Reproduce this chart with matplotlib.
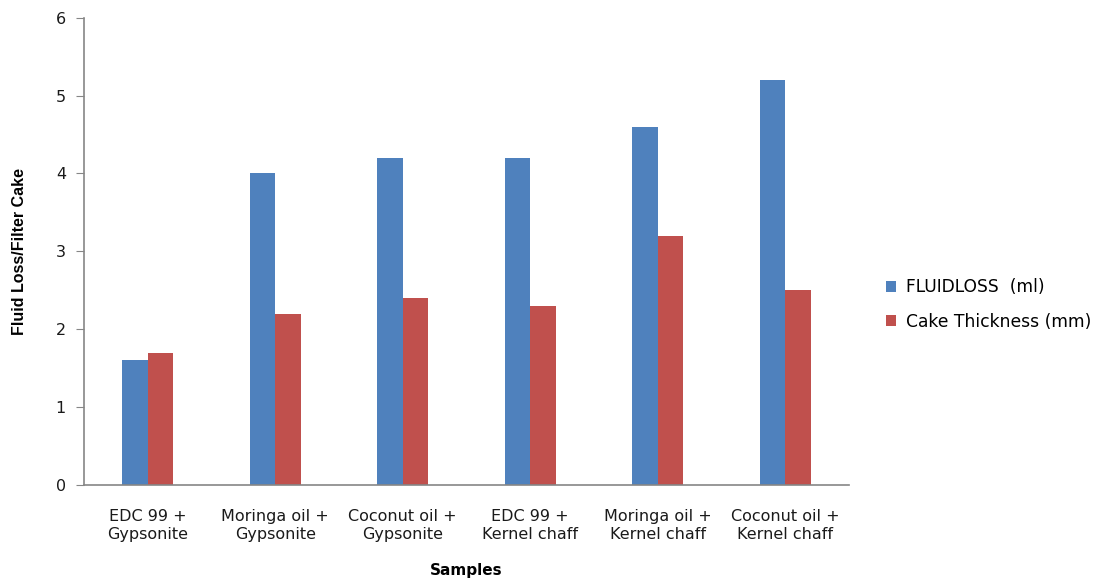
import matplotlib.pyplot as plt
import numpy as np

samples = ["EDC 99 +\nGypsonite", "Moringa oil +\nGypsonite", "Coconut oil +\nGypsonite",
           "EDC 99 +\nKernel chaff", "Moringa oil +\nKernel chaff", "Coconut oil +\nKernel chaff"]
fluid_loss = [1.6, 4.0, 4.2, 4.2, 4.6, 5.2]
cake_thickness = [1.7, 2.2, 2.4, 2.3, 3.2, 2.5]

plt.rcParams['font.family'] = ['DejaVu Sans']

fig = plt.figure(figsize=(11.07, 5.79), dpi=100)
ax = fig.add_axes([0.0759, 0.1624, 0.691, 0.807])

x = np.arange(len(samples))
w = 0.2
ax.bar(x - w / 2, fluid_loss, w, color='#4F81BD', label='FLUIDLOSS  (ml)')
ax.bar(x + w / 2, cake_thickness, w, color='#C0504D', label='Cake Thickness (mm)')

ax.set_xlim(-0.5, len(samples) - 0.5)
ax.set_ylim(0, 6)
ax.set_yticks(range(7))
ax.set_xticks(x)
ax.set_xticklabels(samples, fontsize=11.5, linespacing=1.3, color='#1a1a1a')
ax.tick_params(axis='x', length=0, pad=17)
ax.tick_params(axis='y', length=6, color='#868686', labelsize=11.5, pad=7, labelcolor='#1a1a1a')

for s in ['top', 'right']:
    ax.spines[s].set_visible(False)
for s in ['left', 'bottom']:
    ax.spines[s].set_color('#868686')
    ax.spines[s].set_linewidth(1.2)

ax.set_xlabel('Samples', fontsize=11, fontweight='bold')
ax.xaxis.set_label_coords(0.5, -0.168)
ax.set_ylabel('Fluid Loss/Filter Cake', fontsize=11.5, fontweight='bold',
              family=['Liberation Sans Narrow', 'Liberation Sans', 'DejaVu Sans'])
ax.yaxis.set_label_coords(-0.075, 0.5)

ax.legend(loc='upper left', bbox_to_anchor=(1.028, 0.475), frameon=False, fontsize=12.3,
          handlelength=0.6, handleheight=0.6, labelspacing=0.95, handletextpad=0.6)

fig.savefig('out.png', dpi=100)
